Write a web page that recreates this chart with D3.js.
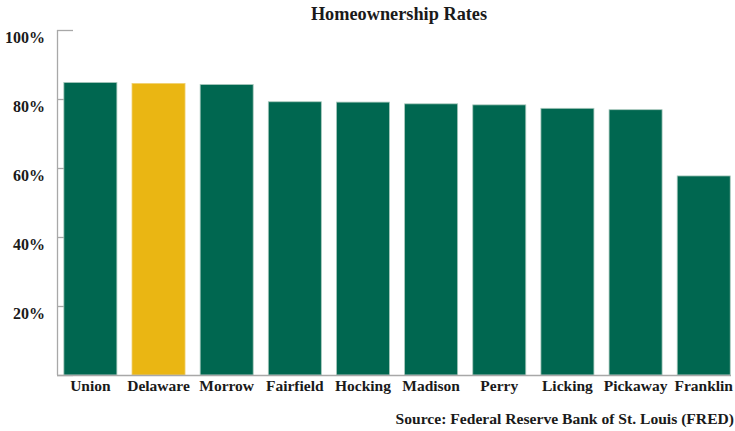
<!DOCTYPE html>
<html>
<head>
<meta charset="utf-8">
<script src="https://cdn.jsdelivr.net/npm/d3@7/dist/d3.min.js"></script>
<style>
  html, body { margin: 0; padding: 0; background: #fff; }
  svg { display: block; }
  text { font-family: "Liberation Serif", "Times New Roman", serif; font-weight: bold; fill: #1a1a1a; }
</style>
</head>
<body>
<svg id="chart" width="735" height="431"></svg>
<script>
// Homeownership rate by county (percent)
const counties = ["Union", "Delaware", "Morrow", "Fairfield", "Hocking", "Madison", "Perry", "Licking", "Pickaway", "Franklin"];
const rates = [84.8, 84.5, 84.2, 79.2, 79.1, 78.6, 78.3, 77.3, 76.9, 57.7];
const highlighted = ["Delaware"];
const yTicks = [0, 20, 40, 60, 80, 100];

const svg = d3.select("#chart");
const plotLeft = 57, plotRight = 737.8, plotTop = 30, plotBottom = 375;

const x = d3.scaleBand()
  .domain(counties)
  .range([plotLeft - 0.7, plotRight])
  .paddingInner(0.222)
  .paddingOuter(0.111);

const y = d3.scaleLinear().domain([0, 100]).range([plotBottom, plotTop]);

// Title
svg.append("text")
  .attr("x", 399).attr("y", 20)
  .attr("text-anchor", "middle")
  .style("font-size", "18.3px")
  .text("Homeownership Rates");

// Y axis with inward ticks
const yAxis = svg.append("g")
  .attr("transform", `translate(${plotLeft},0)`)
  .call(d3.axisLeft(y)
    .tickValues(yTicks)
    .tickSize(-16)
    .tickPadding(12)
    .tickFormat(d => d === 0 ? "" : d + "%"));
yAxis.attr("font-family", null).attr("font-size", null);
yAxis.select(".domain").attr("stroke", "#a8a8a8").attr("stroke-width", 1.3)
  .attr("d", `M0.5,${plotTop}V${plotBottom}`);
yAxis.selectAll(".tick line").attr("stroke", "#a8a8a8").attr("stroke-width", 1.3);
yAxis.selectAll(".tick text")
  .attr("dy", "0.8em")
  .style("font-size", "16px")
  .attr("fill", "#1a1a1a");

// Bars
svg.append("g").selectAll("rect")
  .data(counties)
  .join("rect")
  .attr("x", d => x(d))
  .attr("y", (d, i) => y(rates[i]))
  .attr("width", x.bandwidth())
  .attr("height", (d, i) => y(0) - y(rates[i]))
  .attr("fill", d => highlighted.includes(d) ? "#eab613" : "#006750")
  .attr("stroke", d => highlighted.includes(d) ? "#f0d070" : "#a9c9bd")
  .attr("stroke-width", 0.8);

// X axis baseline
svg.append("line")
  .attr("x1", plotLeft).attr("x2", 731)
  .attr("y1", plotBottom + 0.5).attr("y2", plotBottom + 0.5)
  .attr("stroke", "#a8a8a8").attr("stroke-width", 1.3);

// Category labels
svg.append("g").selectAll("text")
  .data(counties)
  .join("text")
  .attr("x", d => x(d) + x.bandwidth() / 2)
  .attr("y", 391)
  .attr("text-anchor", "middle")
  .style("font-size", "15.5px")
  .text(d => d);

// Source note
svg.append("text")
  .attr("x", 734).attr("y", 424)
  .attr("text-anchor", "end")
  .style("font-size", "15.6px")
  .text("Source: Federal Reserve Bank of St. Louis (FRED)");
</script>
</body>
</html>
